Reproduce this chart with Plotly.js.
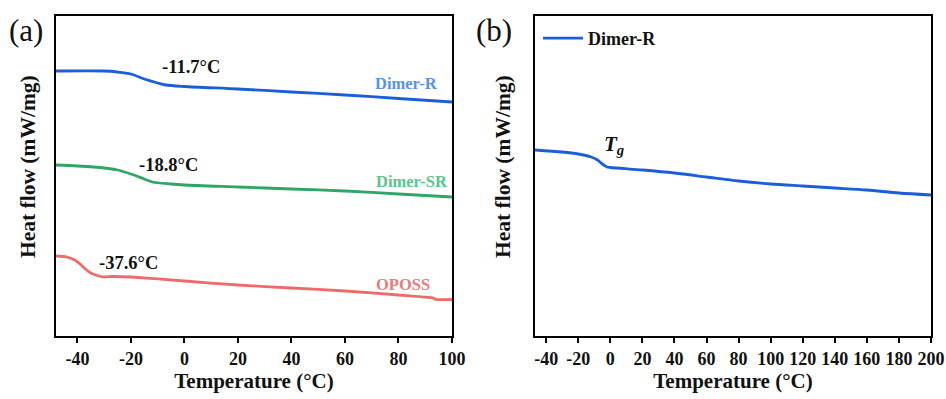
<!DOCTYPE html>
<html>
<head>
<meta charset="utf-8">
<script src="https://cdn.plot.ly/plotly-3.0.1.min.js"></script>
<style>
  html, body { margin: 0; padding: 0; background: #fff; }
  #chart { width: 946px; height: 399px; }
</style>
</head>
<body>
<div id="chart"></div>
<script>
// DSC heating scans, heat flow (mW/mg, curves offset vertically)
const tempDimerR = [-48, -30, -25, -20, -15, -10, -7, 0, 20, 40, 60, 80, 100];
const flowDimerR = [2.65, 2.65, 2.64, 2.62, 2.57, 2.53, 2.51, 2.495, 2.47, 2.44, 2.41, 2.375, 2.34];

const tempDimerSR = [-48, -40, -30, -25, -20, -15, -12, -5, 0, 20, 40, 60, 80, 100];
const flowDimerSR = [1.71, 1.70, 1.68, 1.66, 1.62, 1.57, 1.54, 1.52, 1.51, 1.49, 1.47, 1.45, 1.42, 1.39];

const tempOPOSS = [-48, -44, -41, -39, -37, -35, -32, -30, -27, -20, 0, 20, 40, 60, 80, 93, 94, 100];
const flowOPOSS = [0.80, 0.79, 0.76, 0.72, 0.67, 0.63, 0.60, 0.59, 0.595, 0.59, 0.55, 0.51, 0.48, 0.45, 0.41, 0.38, 0.365, 0.365];

// Wide-range scan of Dimer-R
const tempWide = [-47, -30, -20, -12, -8, -5, -2, 0, 20, 40, 60, 80, 100, 120, 140, 160, 180, 200];
const flowWide = [1.86, 1.84, 1.82, 1.79, 1.76, 1.72, 1.69, 1.685, 1.66, 1.63, 1.59, 1.55, 1.52, 1.50, 1.48, 1.46, 1.43, 1.41];

// Glass transition temperatures and their label positions
const tgLabels = ['-11.7°C', '-18.8°C', '-37.6°C'];
const tgLabelX = [2.5, -6, -21];
const tgLabelY = [2.69, 1.71, 0.73];

// Temperature ticks (labels use a plain hyphen for negatives)
const ticksA = [-40, -20, 0, 20, 40, 60, 80, 100];
const tickTextA = ['-40', '-20', '0', '20', '40', '60', '80', '100'];
const ticksB = [-40, -20, 0, 20, 40, 60, 80, 100, 120, 140, 160, 180, 200];
const tickTextB = ['-40', '-20', '0', '20', '40', '60', '80', '100', '120', '140', '160', '180', '200'];

const serif = "'Liberation Serif', 'Times New Roman', serif";
const blue = '#1b5fd8', green = '#2ea665', red = '#ee6b6b';

const traces = [
  { x: tempDimerR, y: flowDimerR, xaxis: 'x', yaxis: 'y', mode: 'lines', name: 'Dimer-R',
    line: { color: blue, width: 2.8, shape: 'spline', smoothing: 0.8 }, showlegend: false },
  { x: tempDimerSR, y: flowDimerSR, xaxis: 'x', yaxis: 'y', mode: 'lines', name: 'Dimer-SR',
    line: { color: green, width: 2.8, shape: 'spline', smoothing: 0.8 }, showlegend: false },
  { x: tempOPOSS, y: flowOPOSS, xaxis: 'x', yaxis: 'y', mode: 'lines', name: 'OPOSS',
    line: { color: red, width: 2.8, shape: 'spline', smoothing: 0.4 }, showlegend: false },
  { x: tempWide, y: flowWide, xaxis: 'x2', yaxis: 'y2', mode: 'lines', name: 'Dimer-R',
    line: { color: blue, width: 2.8, shape: 'spline', smoothing: 0.8 }, showlegend: true }
];

const axisFrame = {
  showline: true, mirror: true, linecolor: '#000', linewidth: 2,
  showgrid: false, zeroline: false
};

const xAxisCommon = Object.assign({}, axisFrame, {
  ticks: 'outside', ticklen: 5, tickwidth: 2, tickcolor: '#000', tickmode: 'array',
  tickfont: { family: serif, size: 18, color: '#111', weight: 'bold' },
  title: { text: '<b>Temperature (°C)</b>', font: { family: serif, size: 21, color: '#111' }, standoff: 6 }
});

const yAxisCommon = Object.assign({}, axisFrame, {
  showticklabels: false, ticks: '', range: [0, 3.2]
});

const annotations = [];
tgLabels.forEach((t, i) => {
  annotations.push({ xref: 'x', yref: 'y', x: tgLabelX[i], y: tgLabelY[i], text: '<b>' + t + '</b>',
    xanchor: 'center', yanchor: 'middle',
    showarrow: false, font: { family: serif, size: 18.5, color: '#111' } });
});
annotations.push(
  { xref: 'x', yref: 'y', x: 83, y: 2.53, text: '<b>Dimer-R</b>', showarrow: false, xanchor: 'center',
    font: { family: serif, size: 16.5, color: '#5a92e6' } },
  { xref: 'x', yref: 'y', x: 85, y: 1.55, text: '<b>Dimer-SR</b>', showarrow: false, xanchor: 'center',
    font: { family: serif, size: 16.5, color: '#5cc58b' } },
  { xref: 'x', yref: 'y', x: 81.5, y: 0.52, text: '<b>OPOSS</b>', showarrow: false, xanchor: 'center',
    font: { family: serif, size: 16.5, color: '#f07878' } },
  { xref: 'x2', yref: 'y2', x: 2, y: 1.91, text: '<b><i>T<sub>g</sub></i></b>', showarrow: false, xanchor: 'center',
    font: { family: serif, size: 21, color: '#111' } },
  { xref: 'paper', yref: 'paper', x: 28 / 946, y: 1 - 167 / 399, text: '<b>Heat flow (mW/mg)</b>', textangle: -90,
    xanchor: 'center', yanchor: 'middle',
    showarrow: false, font: { family: serif, size: 21.5, color: '#111' } },
  { xref: 'paper', yref: 'paper', x: 503 / 946, y: 1 - 167 / 399, text: '<b>Heat flow (mW/mg)</b>', textangle: -90,
    xanchor: 'center', yanchor: 'middle',
    showarrow: false, font: { family: serif, size: 21.5, color: '#111' } },
  { xref: 'paper', yref: 'paper', x: 26 / 946, y: 1 - 30 / 399, text: '(a)', showarrow: false,
    xanchor: 'center', yanchor: 'middle',
    font: { family: serif, size: 31, color: '#111' } },
  { xref: 'paper', yref: 'paper', x: 494 / 946, y: 1 - 30 / 399, text: '(b)', showarrow: false,
    xanchor: 'center', yanchor: 'middle',
    font: { family: serif, size: 31, color: '#111' } }
);

const layout = {
  width: 946, height: 399,
  margin: { l: 0, r: 0, t: 0, b: 0 },
  paper_bgcolor: '#fff', plot_bgcolor: '#fff',
  xaxis: Object.assign({}, xAxisCommon, { domain: [56 / 946, 452 / 946], range: [-48, 100],
    tickvals: ticksA, ticktext: tickTextA, anchor: 'y' }),
  yaxis: Object.assign({}, yAxisCommon, { domain: [63 / 399, 383 / 399], anchor: 'x' }),
  xaxis2: Object.assign({}, xAxisCommon, { domain: [535 / 946, 931 / 946], range: [-47, 200],
    tickvals: ticksB, ticktext: tickTextB, anchor: 'y2' }),
  yaxis2: Object.assign({}, yAxisCommon, { domain: [63 / 399, 383 / 399], anchor: 'x2' }),
  showlegend: true,
  legend: {
    x: 538 / 946, y: 1 - 20 / 399, xanchor: 'left', yanchor: 'top',
    bgcolor: 'rgba(0,0,0,0)', itemwidth: 40, tracegroupgap: 0,
    font: { family: serif, size: 18, color: '#111', weight: 'bold' }
  },
  annotations: annotations
};

Plotly.newPlot('chart', traces, layout, { displayModeBar: false, staticPlot: true });
</script>
</body>
</html>
